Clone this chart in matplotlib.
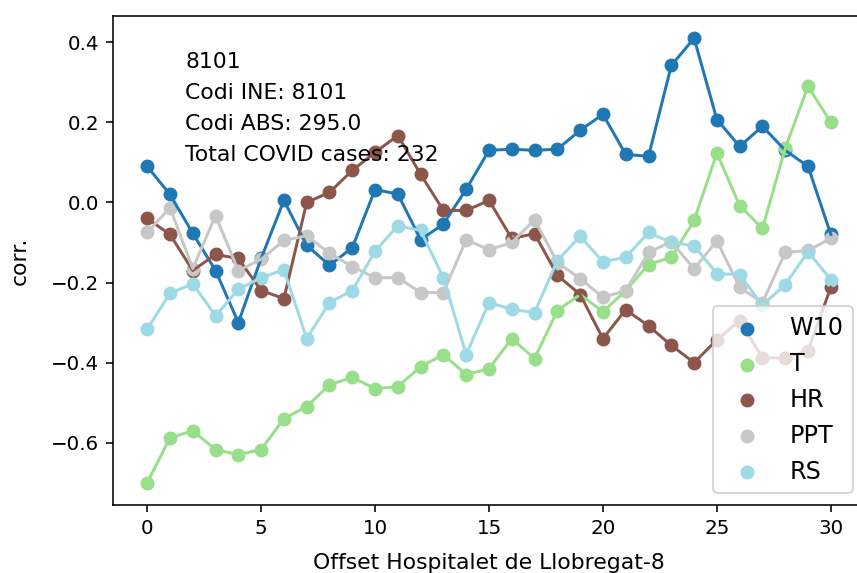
import matplotlib
matplotlib.use("Agg")
import matplotlib.pyplot as plt
import numpy as np

# correlacions per desfasament (dies)
offsets = list(range(31))
names = ["W10", "T", "HR", "PPT", "RS"]

w10 = [0.09, 0.02, -0.077, -0.17, -0.30, -0.14, 0.005, -0.107, -0.157, -0.113,
       0.032, 0.021, -0.093, -0.054, 0.033, 0.13, 0.133, 0.13, 0.133, 0.18,
       0.22, 0.12, 0.115, 0.342, 0.41, 0.207, 0.14, 0.19, 0.13, 0.09, -0.08]
t = [-0.70, -0.588, -0.57, -0.617, -0.63, -0.617, -0.54, -0.51, -0.455, -0.437,
     -0.465, -0.46, -0.41, -0.38, -0.43, -0.415, -0.34, -0.39, -0.27, -0.23,
     -0.273, -0.22, -0.155, -0.137, -0.045, 0.123, -0.008, -0.065, 0.135, 0.29, 0.20]
hr = [-0.04, -0.08, -0.17, -0.13, -0.14, -0.22, -0.24, 0.0, 0.025, 0.08,
      0.125, 0.167, 0.07, -0.02, -0.02, 0.005, -0.09, -0.078, -0.182, -0.23,
      -0.34, -0.268, -0.308, -0.357, -0.40, -0.343, -0.295, -0.388, -0.388, -0.37, -0.212]
ppt = [-0.075, -0.013, -0.165, -0.033, -0.17, -0.142, -0.095, -0.083, -0.127, -0.16,
       -0.188, -0.188, -0.225, -0.225, -0.093, -0.118, -0.1, -0.043, -0.15, -0.19,
       -0.237, -0.22, -0.125, -0.098, -0.166, -0.096, -0.212, -0.25, -0.125, -0.12, -0.09]
rs = [-0.316, -0.227, -0.203, -0.283, -0.217, -0.188, -0.168, -0.34, -0.25, -0.22,
      -0.122, -0.058, -0.07, -0.188, -0.38, -0.25, -0.267, -0.275, -0.145, -0.085,
      -0.148, -0.137, -0.075, -0.1, -0.108, -0.178, -0.18, -0.257, -0.205, -0.123, -0.193]

info = "8101\nCodi INE: 8101\nCodi ABS: 295.0\nTotal COVID cases: 232"

series = [w10, t, hr, ppt, rs]
colors = plt.cm.tab20(np.linspace(0, 1, len(series)))

fig = plt.figure(figsize=(857 / 143, 573 / 143), dpi=143)
ax = fig.add_axes([113 / 857, 68 / 573, 752 / 857, 489 / 573])

for name, vals, c in zip(names, series, colors):
    ax.plot(offsets, vals, "-", color=c)
    ax.scatter(offsets, vals, color=c, label=name)

ax.text(0.096, 0.926, info, transform=ax.transAxes, va="top", fontsize=11,
        linespacing=1.68)
ax.set_xlabel("Offset Hospitalet de Llobregat-8", fontsize=11, labelpad=7.5)
ax.set_ylabel("corr.", fontsize=11, labelpad=10.5)
ax.legend(loc="lower right", fontsize=12)

fig.savefig("out.png", dpi=143)
